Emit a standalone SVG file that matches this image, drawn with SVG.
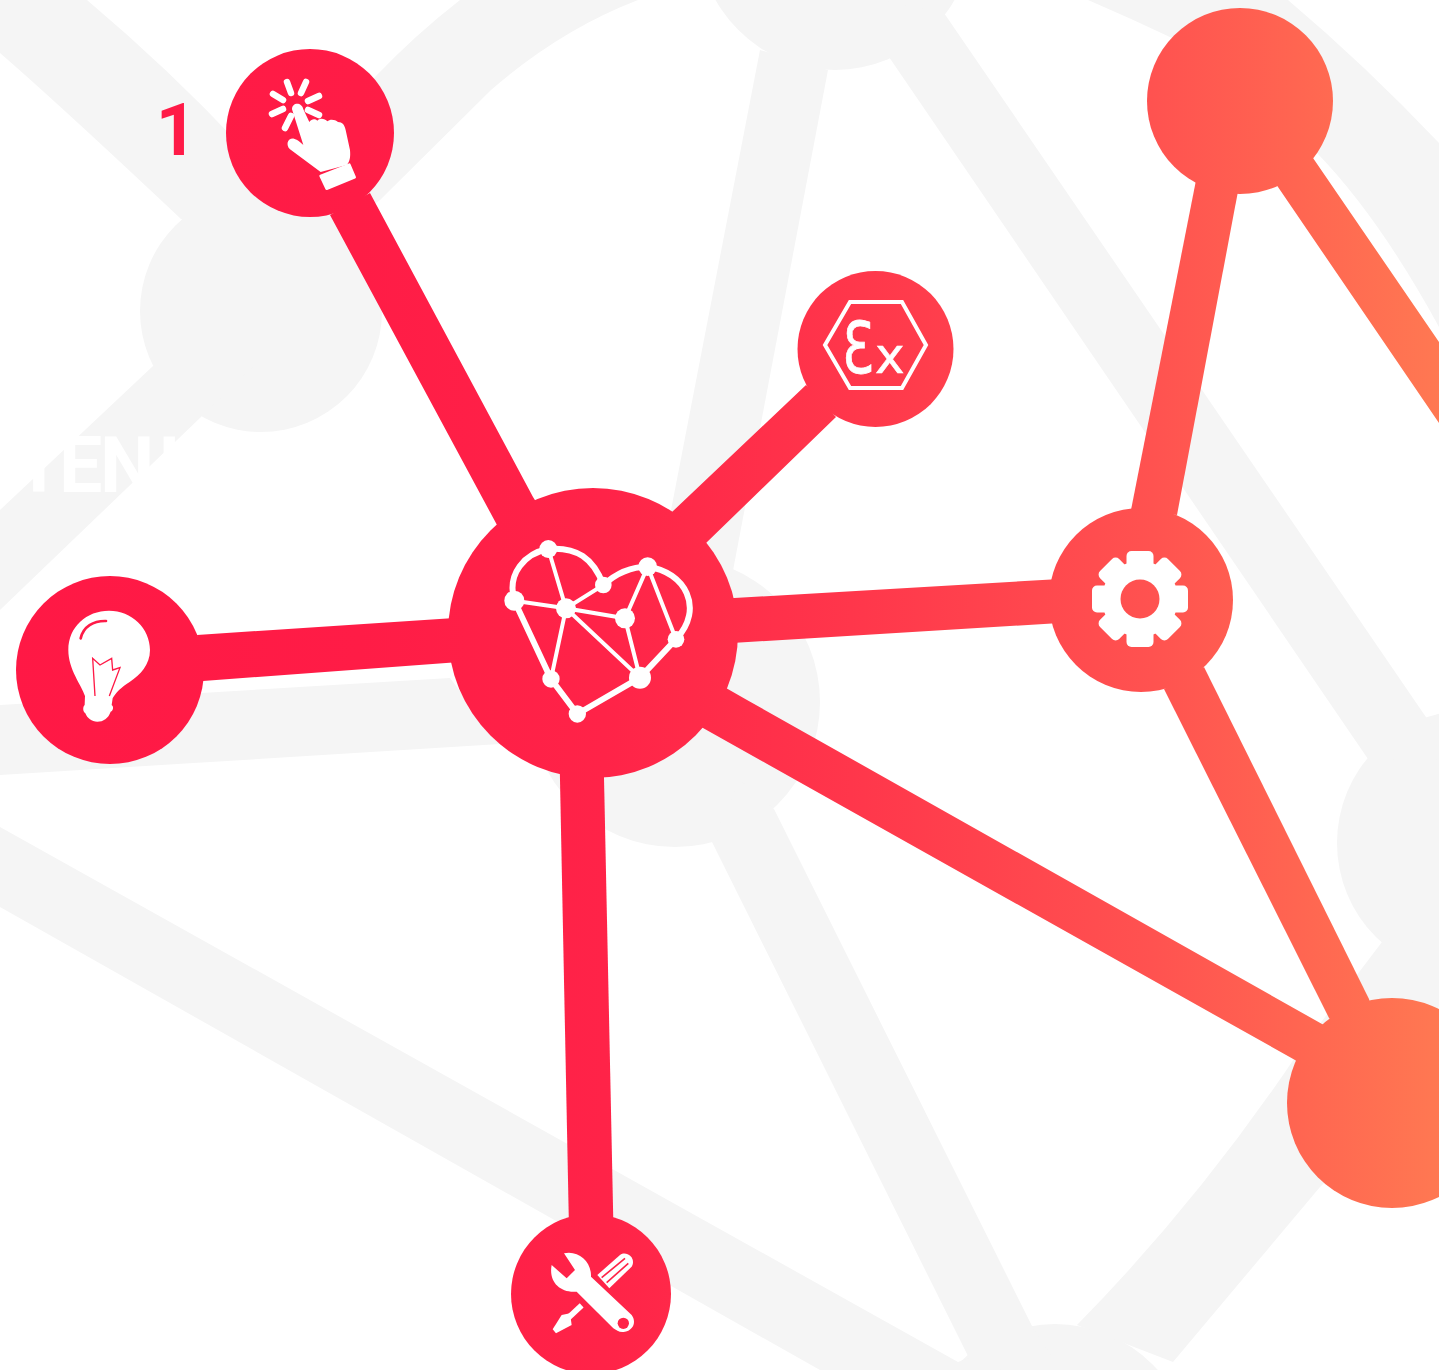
<svg xmlns="http://www.w3.org/2000/svg" width="1439" height="1370" viewBox="0 0 1439 1370">
<defs>
<linearGradient id="g" gradientUnits="userSpaceOnUse" x1="0" y1="0" x2="1439" y2="0">
<stop offset="0" stop-color="#ff1845"/><stop offset="0.25" stop-color="#ff1c46"/><stop offset="0.42" stop-color="#ff2348"/><stop offset="0.6" stop-color="#ff374b"/><stop offset="0.8" stop-color="#ff5250"/><stop offset="1" stop-color="#ff7852"/>
</linearGradient>
</defs>
<style>
.bg{fill:#f5f5f5}
.red{fill:url(#g)}
.w{fill:#fff}
.ray{stroke:#fff;stroke-width:6.5;stroke-linecap:round;fill:none}
</style>
<rect width="1439" height="1370" fill="#fff"/>
<g id="background">
<circle class="bg" cx="261" cy="311" r="121"/>
<circle class="bg" cx="675" cy="702" r="145"/>
<circle class="bg" cx="835" cy="-67" r="137"/>
<circle class="bg" cx="1470" cy="843" r="133"/>
<circle class="bg" cx="1055" cy="1462" r="138"/>
<path class="bg" d="M0,53 Q60,105 181,219 L260,240 L240,145 Q170,70 87,0 L0,0 Z"/>
<path class="bg" d="M460,0 Q415,35 375,77 L300,170 L300,260 L380,200 L491,90 Q560,30 638,0 Z"/>
<path class="bg" d="M153,366 L0,510 L0,610 L201,417 L260,360 L220,320 Z"/>
<path class="bg" d="M760,50 L828,70 L735,560 L720,640 L650,620 L672,505 Z"/>
<path class="bg" d="M0,705 L450,678 L500,744 L0,775 Z"/>
<path class="bg" d="M889,57 L1368,759 L1470,760 L1430,723 L944,13 L880,0 Z"/>
<path class="bg" d="M1088,0 Q1130,18 1172,38 Q1250,90 1317,153 Q1379,217 1439,327 L1439,143 Q1365,65 1288,0 Z"/>
<path class="bg" d="M1385,938 L1300,1050 Q1200,1200 1077,1325 L1173,1362 L1320,1187 L1400,1110 L1460,950 Z"/>
<path class="bg" d="M774,809 L1033,1328 L1080,1400 L969,1358 L712,842 L740,780 Z"/>
<path class="bg" d="M0,827 L958,1362 L969,1358 L1000,1370 L820,1370 L0,907 Z"/>
<text x="15 59 100 158" y="492" font-family="Roboto, 'Liberation Sans', sans-serif" font-weight="700" font-size="77" fill="#fff">TENI</text>
</g>
<g id="connectors">
<polygon class="red" points="330,215 370,193 533,497 560,540 520,560 497,525"/>
<polygon class="red" points="806,385 836,417 706,543 680,570 640,540 672,512"/>
<polygon class="red" points="700,600 1060,579 1060,623 700,645"/>
<polygon class="red" points="197,635 500,615 500,659 203,681"/>
<polygon class="red" points="559,730 603,730 613.5,1230 569,1230"/>
<polygon class="red" points="747,700 1322,1024 1350,1040 1320,1080 1295,1060 703,728 680,715 705,676"/>
<polygon class="red" points="1164,689 1204,667 1369,999 1380,1040 1340,1030 1329,1018"/>
<polygon class="red" points="1200,160 1242,170 1177,515 1131,510"/>
<polygon class="red" points="1262,163 1297,134 1313,158 1439,342 1439,423 1278,187"/>
</g>
<text id="label-1" x="197" y="155" text-anchor="end" font-family="Roboto, 'Liberation Sans', sans-serif" font-weight="700" font-size="72" fill="#ff1a47">1</text>
<g id="node-top"><circle class="red" cx="1240" cy="101" r="93"/></g>
<g id="node-big"><circle class="red" cx="1392" cy="1103" r="105"/></g>
<g id="node-click">
<circle class="red" cx="310" cy="133" r="84"/>
<path class="ray" d="M287,82 L291,93 M306,82 L301,93 M273,94 L283,100 M319,96 L308,101 M272,114 L283,109 M319,115 L308,110 M291,116 L285,128"/>
<g transform="translate(220 50) scale(.3333)">
<path class="w" d="M216,178 C216,156 246,156 250,178 L268,216 C275,206 285,206 292,212 C300,203 315,206 322,214 C330,206 345,208 354,216 C367,216 374,225 377,240 L390,300 C392,320 390,335 380,345 L302,366 L210,298 C196,285 203,263 222,266 C232,268 245,280 250,285 Z"/>
<polygon class="w" points="302,378 388,344 404,382 320,416" stroke="#fff" stroke-width="8" stroke-linejoin="round"/>
</g>
</g>
<g id="node-heart">
<circle class="red" cx="593" cy="633" r="145"/>
<g transform="translate(490 530) scale(.3333)">
<path d="M73,212 C50,130 105,70 175,57 C260,50 310,85 340,165 Q400,110 473,110 C585,125 645,235 558,328 L450,443 L262,552 L183,447 L73,212" fill="none" stroke="#fff" stroke-width="18" stroke-linejoin="round"/>
<path d="M175,57 L228,235 M73,212 L228,235 M340,165 L228,235 L405,265 M228,235 L183,447 M228,235 L450,443 L405,265 L473,110 L558,328" fill="none" stroke="#fff" stroke-width="12"/>
<g class="w"><circle cx="175" cy="57" r="27"/><circle cx="73" cy="212" r="30"/><circle cx="340" cy="165" r="25"/><circle cx="473" cy="110" r="28"/><circle cx="228" cy="235" r="30"/><circle cx="405" cy="265" r="30"/><circle cx="558" cy="328" r="25"/><circle cx="183" cy="447" r="26"/><circle cx="450" cy="443" r="33"/><circle cx="262" cy="552" r="26"/></g>
</g>
</g>
<g id="node-ex">
<circle class="red" cx="875.5" cy="349" r="78"/>
<polygon points="850,302 902,302 926,345 902,388 850,388 825,345" fill="none" stroke="#fff" stroke-width="4"/>
<text transform="translate(842 373) scale(.72 1)" font-family="'DejaVu Sans', sans-serif" font-size="72" fill="#fff" stroke="#fff" stroke-width=".8">Ɛ</text>
<text x="875" y="373" font-family="'DejaVu Sans', sans-serif" font-size="50" fill="#fff" stroke="#fff" stroke-width=".6">x</text>
</g>
<g id="node-gear">
<circle class="red" cx="1141" cy="600" r="92"/>
<g transform="translate(1140 599)" class="w">
<circle r="38"/>
<g id="t"><rect x="-13.5" y="-48" width="27" height="24" rx="5"/><rect x="-13.5" y="24" width="27" height="24" rx="5"/></g>
<use href="#t" transform="rotate(45)"/><use href="#t" transform="rotate(90)"/><use href="#t" transform="rotate(135)"/>
</g>
<circle class="red" cx="1140" cy="599" r="19.5"/>
</g>
<g id="node-bulb">
<circle class="red" cx="110" cy="670" r="94"/>
<g transform="translate(40 590) scale(.3333)">
<path class="w" d="M85,180 C85,110 140,62 207,62 C275,62 330,115 330,180 C330,225 300,255 270,275 C245,290 225,310 218,325 L215,345 C222,350 220,362 212,365 C205,385 190,395 172,395 C155,395 142,385 136,370 C128,365 128,350 134,345 L135,318 C125,285 85,240 85,180Z"/>
<path d="M122,145 C130,110 160,92 198,93" fill="none" stroke="#ff1a47" stroke-width="8" stroke-linecap="round"/>
<path d="M165,318 L158,205 L180,225 L215,205 L218,240 L240,233 L208,318" fill="none" stroke="#ff1a47" stroke-width="4"/>
</g>
</g>
<g id="node-tools">
<circle class="red" cx="591" cy="1294" r="80"/>
<g transform="translate(520 1230) scale(.3333)">
<path class="w" d="M132,70 C175,60 215,95 213,140 L335,255 C350,275 340,300 315,305 C300,310 290,300 280,295 L170,185 C120,190 85,155 95,105 L140,145 L165,120 Z"/>
<circle cx="310" cy="280" r="17" fill="#ff2448"/>
<path class="w" d="M232,135 L300,75 C320,60 350,85 335,110 L268,175 Z"/>
<path d="M245,143 L315,85 M260,158 L325,100" stroke="#ff2448" stroke-width="5" fill="none"/>
<path d="M185,226 L140,268" stroke="#fff" stroke-width="17" fill="none"/>
<path class="w" d="M98,298 L125,255 L150,250 L155,285 L108,310 Z"/>
</g>
</g>
</svg>
